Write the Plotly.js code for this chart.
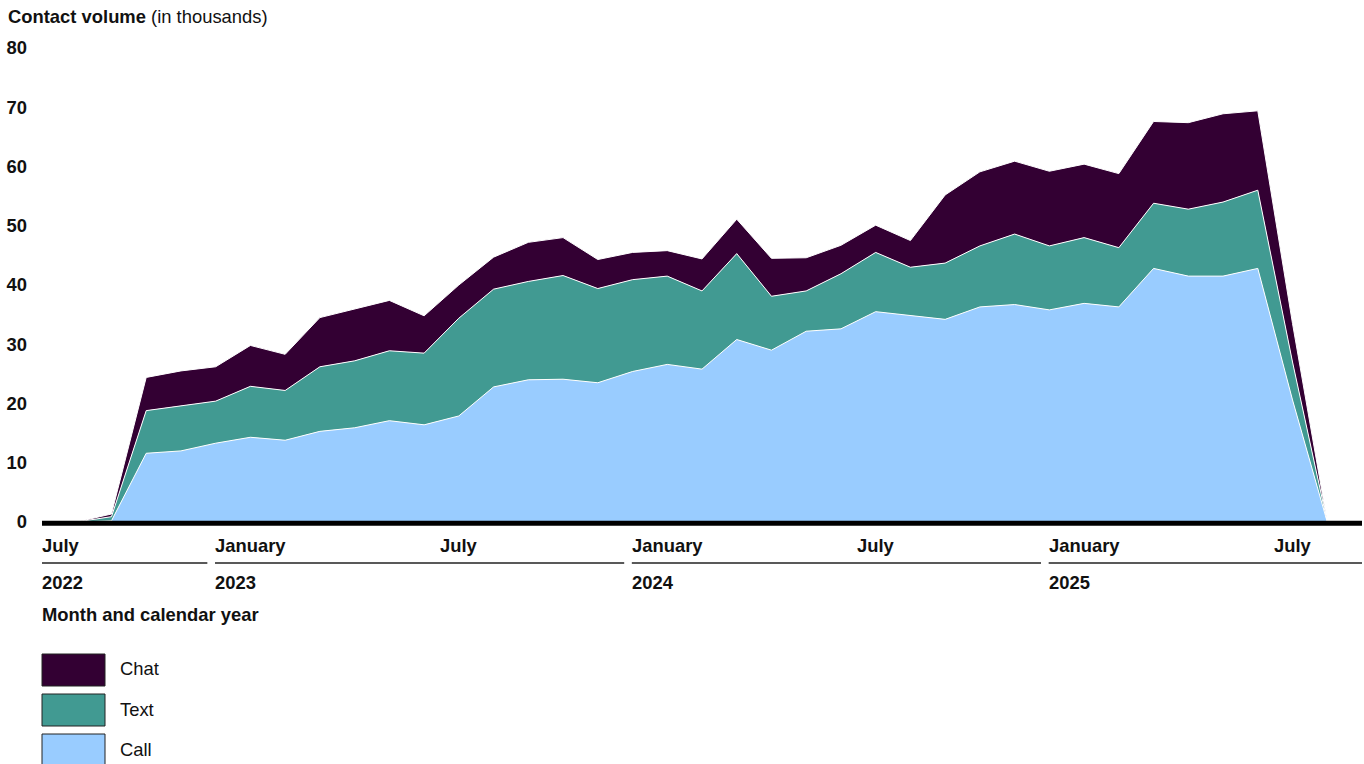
<!DOCTYPE html>
<html>
<head>
<meta charset="utf-8">
<script src="https://cdn.plot.ly/plotly-3.0.1.min.js"></script>
<style>
  html, body { margin: 0; padding: 0; background: #fff; }
  #chart { width: 1364px; height: 764px; }
</style>
</head>
<body>
<div id="chart"></div>
<script>
// ---- Data (contact volume, thousands) ----
const months = ['2022-07','2022-08','2022-09','2022-10','2022-11','2022-12',
  '2023-01','2023-02','2023-03','2023-04','2023-05','2023-06',
  '2023-07','2023-08','2023-09','2023-10','2023-11','2023-12',
  '2024-01','2024-02','2024-03','2024-04','2024-05','2024-06',
  '2024-07','2024-08','2024-09','2024-10','2024-11','2024-12',
  '2025-01','2025-02','2025-03','2025-04','2025-05','2025-06',
  '2025-07','2025-08'];
const call = [0, 0, 0.2, 11.6, 12.0, 13.3,
  14.3, 13.8, 15.3, 15.9, 17.1, 16.4,
  17.9, 22.8, 24.0, 24.1, 23.5, 25.4,
  26.6, 25.8, 30.8, 29.0, 32.2, 32.6,
  35.5, 34.8, 34.2, 36.3, 36.7, 35.8,
  36.9, 36.3, 42.8, 41.5, 41.5, 42.8,
  20.6, 0];
const text = [0, 0, 0.7, 7.2, 7.6, 7.1,
  8.6, 8.4, 10.9, 11.3, 11.8, 12.1,
  16.5, 16.5, 16.6, 17.5, 15.9, 15.5,
  14.9, 13.2, 14.5, 9.1, 6.8, 9.3,
  10.0, 8.2, 9.5, 10.3, 11.9, 10.8,
  11.1, 10.0, 11.0, 11.3, 12.5, 13.2,
  6.4, 0];
const chat = [0, 0, 0.45, 5.6, 5.9, 5.8,
  6.9, 6.1, 8.3, 8.7, 8.5, 6.3,
  5.6, 5.4, 6.6, 6.4, 4.9, 4.6,
  4.3, 5.4, 5.8, 6.4, 5.6, 4.8,
  4.6, 4.5, 11.5, 12.5, 12.3, 12.6,
  12.4, 12.5, 13.8, 14.6, 14.9, 13.4,
  6.5, 0];
const seriesNames = ['Call', 'Text', 'Chat'];
const seriesColors = ['#99CCFF', '#419A92', '#330033'];
const legendOrder = ['Chat', 'Text', 'Call'];
const monthNames = {'01': 'January', '07': 'July'};
const yTicks = [0, 10, 20, 30, 40, 50, 60, 70, 80];

// ---- Build ----
const xIdx = months.map((m, i) => i);
const seriesValues = [call, text, chat];
const traces = seriesNames.map((name, k) => ({
  type: 'scatter', mode: 'lines', name: name,
  x: xIdx, y: seriesValues[k], stackgroup: 'one',
  fill: 'tonexty', fillcolor: seriesColors[k],
  line: {color: '#ffffff', width: 1, shape: 'linear'},
  hoverinfo: 'skip', showlegend: false
}));

const FONT = 'Liberation Sans, Arial, sans-serif';
const FS = 18.4;
const plotL = 42, plotT = 48, plotW = 1320, plotH = 474;
const px = p => (p - plotL) / plotW;
const py = p => (plotT + plotH - p) / plotH;

const annotations = [];
const shapes = [];

// month labels
months.forEach((m, i) => {
  const mm = m.slice(5);
  if (monthNames[mm]) {
    annotations.push({
      xref: 'x', yref: 'paper', x: i, y: py(545),
      xanchor: i === 0 ? 'left' : 'center', yanchor: 'middle',
      xshift: i === 0 ? -2 : 0,
      text: '<b>' + monthNames[mm] + '</b>', showarrow: false,
      font: {family: FONT, size: FS, color: '#111'}
    });
  }
});

// year labels and underlines
const yearStarts = [];
months.forEach((m, i) => {
  const yr = m.slice(0, 4);
  if (i === 0 || months[i - 1].slice(0, 4) !== yr) {
    yearStarts.push({year: yr, pos: i === 0 ? 0 : i - 1.02});
  }
});
yearStarts.forEach((ys, j) => {
  const end = j < yearStarts.length - 1 ? yearStarts[j + 1].pos - 0.22 : 38;
  shapes.push({
    type: 'line', xref: 'x', yref: 'paper',
    x0: ys.pos, x1: end, y0: py(563), y1: py(563),
    line: {color: '#222', width: 1.5}
  });
  annotations.push({
    xref: 'x', yref: 'paper', x: ys.pos, y: py(582), xshift: -2,
    xanchor: 'left', yanchor: 'middle', text: '<b>' + ys.year + '</b>',
    showarrow: false, font: {family: FONT, size: FS, color: '#111'}
  });
});

// axis title
annotations.push({
  xref: 'paper', yref: 'paper', x: 0, y: py(614), xshift: -2,
  xanchor: 'left', yanchor: 'middle', text: '<b>Month and calendar year</b>',
  showarrow: false, font: {family: FONT, size: FS, color: '#111'}
});

// baseline
shapes.push({
  type: 'line', xref: 'paper', yref: 'paper',
  x0: 0, x1: 1, y0: py(523.3), y1: py(523.3), layer: 'above',
  line: {color: '#000', width: 5}
});

// legend
legendOrder.forEach((name, j) => {
  const k = seriesNames.indexOf(name);
  const top = 654 + j * 40;
  shapes.push({
    type: 'rect', xref: 'paper', yref: 'paper',
    x0: px(42), x1: px(105), y0: py(top), y1: py(top + 32),
    fillcolor: seriesColors[k], line: {color: '#222', width: 1}
  });
  annotations.push({
    xref: 'paper', yref: 'paper', x: px(120), y: py(top + 15), xshift: -2,
    xanchor: 'left', yanchor: 'middle', text: name, showarrow: false,
    font: {family: FONT, size: FS, color: '#111'}
  });
});

const layout = {
  width: 1364, height: 764,
  margin: {l: plotL, r: 1364 - plotL - plotW, t: plotT, b: 764 - plotT - plotH, pad: 0},
  paper_bgcolor: '#fff', plot_bgcolor: '#fff',
  font: {family: FONT, size: FS, color: '#111'},
  title: {
    text: '<b>Contact volume</b> (in thousands)',
    xref: 'container', yref: 'container', x: 8 / 1364, xanchor: 'left',
    y: 1 - 17 / 764, yanchor: 'middle',
    font: {family: FONT, size: FS, color: '#111'}
  },
  xaxis: {range: [0, 38], showgrid: false, zeroline: false, showline: false,
    showticklabels: false, ticks: '', fixedrange: true},
  yaxis: {range: [0, 80], tickvals: yTicks, ticktext: yTicks.map(String),
    showgrid: false, zeroline: false, showline: false, ticks: '',
    ticklabelstandoff: 14,
    tickfont: {family: FONT, size: FS, color: '#111', weight: 'bold'},
    fixedrange: true},
  hovermode: false,
  showlegend: false,
  shapes: shapes,
  annotations: annotations
};

Plotly.newPlot('chart', traces, layout, {displayModeBar: false, staticPlot: true});
</script>
</body>
</html>
